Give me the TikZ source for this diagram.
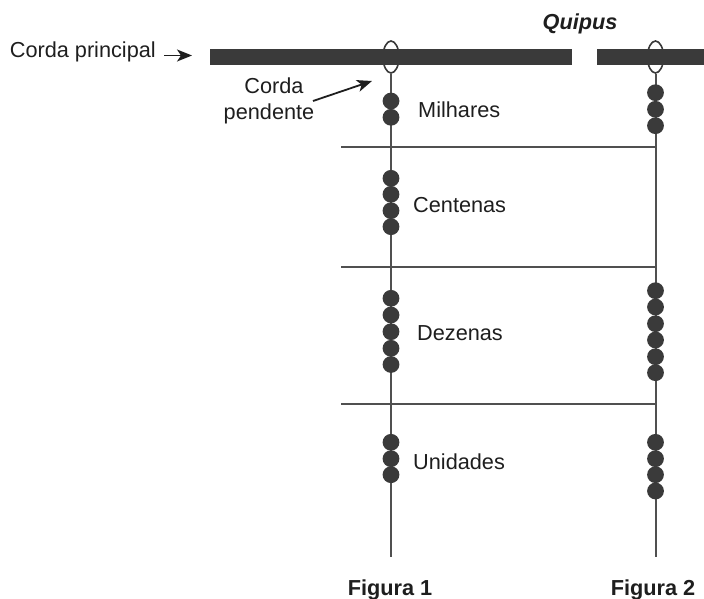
\documentclass[tikz,border=0pt]{standalone}
\usepackage{fontspec}
\setmainfont{Liberation Sans}
\usetikzlibrary{arrows.meta,shapes.geometric}
\definecolor{ink}{HTML}{1E1E1E}
\definecolor{bardark}{HTML}{3A3A3A}
\definecolor{cordgray}{HTML}{505050}
\tikzset{
  bar/.style={rectangle,fill=bardark,draw=none,minimum height=16pt,inner sep=0pt},
  knot/.style={ellipse,draw=bardark,line width=1.6pt,fill=white,minimum width=16pt,minimum height=32pt,inner sep=0pt},
  cord/.style={draw=cordgray,line width=2pt},
  bead/.style={circle,fill=bardark,draw=none,minimum size=16.8pt,inner sep=0pt},
  lbl/.style={text=ink,inner sep=0pt,font=\fontsize{21.7}{26}\selectfont},
  blbl/.style={text=ink,inner sep=0pt,font=\fontsize{21.7}{26}\selectfont\bfseries},
  pointer/.style={draw=ink,line width=1.8pt,-{Stealth[length=15pt,width=12pt,inset=4pt]}}
}
\begin{document}
\begin{tikzpicture}[x=1pt,y=-1pt]
\useasboundingbox (0,0) rectangle (704,599);
% knots and main cord
\node[knot] (e1) at (391,57) {};
\node[knot] (e2) at (655.5,57) {};
\node[bar,minimum width=362pt] (bar1) at (391,57) {};
\node[bar,minimum width=107pt] (bar2) at (650.5,57) {};
% pendant cords
\coordinate (end1) at (391,557);
\coordinate (end2) at (655.5,557);
\draw[cord] (e1.south) -- (end1);
\draw[cord] (e2.south) -- (end2);
% separators
\coordinate (h1) at (341,147);
\coordinate (h2) at (341,267);
\coordinate (h3) at (341,403.5);
\draw[cord] (h1) -- (h1 -| e2);
\draw[cord] (h2) -- (h2 -| e2);
\draw[cord] (h3) -- (h3 -| e2);
% beads figure 1
\foreach \y [count=\i] in {101,117.3,178.3,194.3,210.7,226.7,298.3,315,331.7,348.3,364.5,442.3,458.7,474.7}
  \node[bead] (a\i) at (391,\y) {};
% beads figure 2
\foreach \y [count=\i] in {92.7,109.3,125.7,290.7,307,323.7,340,356.7,372.7,442.3,458.7,474.7,491}
  \node[bead] (c\i) at (655.5,\y) {};
% labels
\node[lbl,anchor=base east] (cp) at (156,58) {Corda principal};
\coordinate (cpstart) at (164,55.5);
\coordinate (cpend) at (192,55.5);
\draw[pointer] (cpstart) -- (cpend);
\node[lbl,anchor=base] (pend1) at (274,94) {Corda};
\node[lbl,anchor=base] (pend2) at (269,120) {pendente};
\coordinate (pstart) at (313,101);
\coordinate (ptip) at (372,81);
\draw[pointer] (pstart) -- (ptip);
\node[lbl,anchor=base west] (mil) at (418,118) {Milhares};
\node[lbl,anchor=base west] (cen) at (413,212) {Centenas};
\node[lbl,anchor=base west] (dez) at (417,340) {Dezenas};
\node[lbl,anchor=base west] (uni) at (413,469) {Unidades};
\node[blbl,anchor=base] (f1) at (390,595) {Figura 1};
\node[blbl,anchor=base] (f2) at (653,595) {Figura 2};
\node[blbl,anchor=base] (q) at (580,30) {\itshape Quipus};
\end{tikzpicture}
\end{document}
